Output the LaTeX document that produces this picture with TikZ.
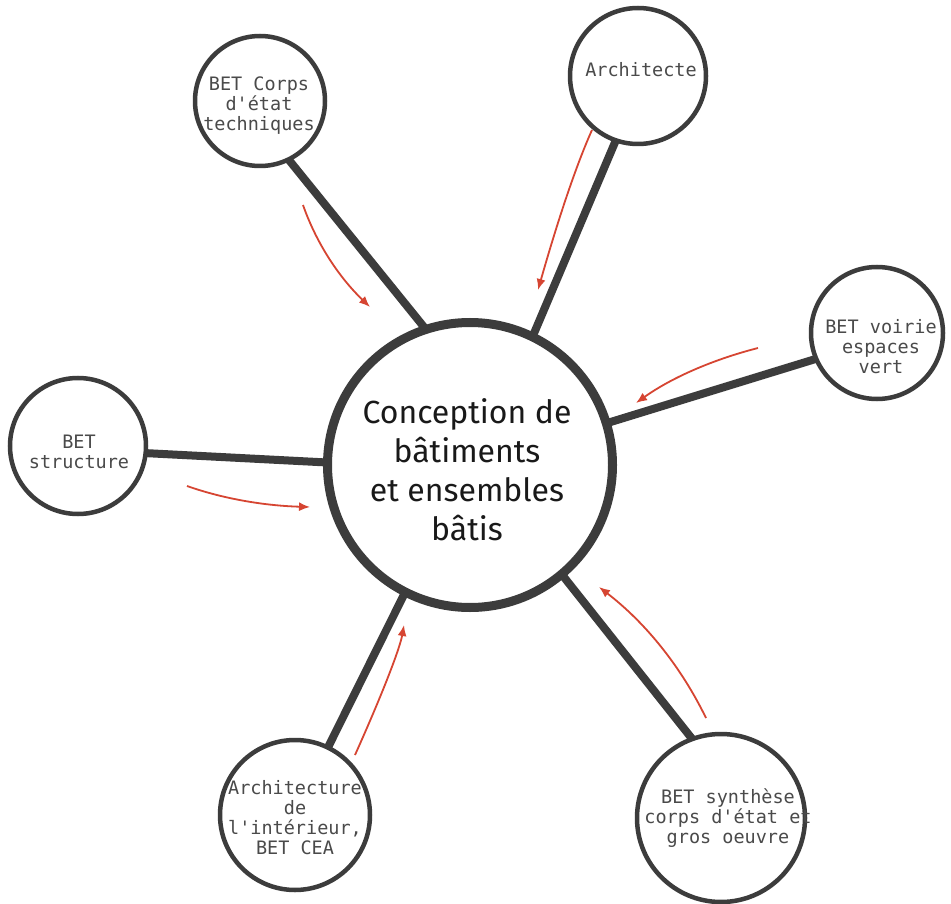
\documentclass[tikz,border=0pt]{standalone}
\usepackage{fontspec}
\setmonofont{DejaVu Sans Mono}
\newfontfamily\hubfont{Fira Sans}
\usetikzlibrary{arrows.meta}
\definecolor{ring}{HTML}{3C3C3C}
\definecolor{satext}{HTML}{4A4A4A}
\definecolor{flow}{HTML}{D64532}
\begin{document}
\begin{tikzpicture}[x=1pt,y=-1pt,
  hub/.style={circle,draw=ring,line width=9pt,fill=white,minimum size=285pt,inner sep=0pt,outer sep=0pt},
  sat/.style={circle,draw=ring,line width=4.5pt,fill=white,inner sep=0pt,outer sep=0pt},
  stext/.style={font=\ttfamily\fontsize{18.5}{20}\selectfont,text=satext,align=center,inner sep=0pt},
  hubtext/.style={font=\hubfont\fontsize{32}{39}\selectfont,text=black!90,align=center,inner sep=0pt},
  link/.style={draw=ring,line width=8pt},
  flowarrow/.style={draw=flow,line width=1.8pt,-{Latex[length=11pt,width=9pt]}}
]
\useasboundingbox[fill=white] (0,0) rectangle (951,904);

% circles
\node[hub] (hub) at (470,465) {};
\node[sat,minimum size=130pt] (s1) at (260,101) {};
\node[sat,minimum size=136pt] (s2) at (638,76) {};
\node[sat,minimum size=132pt] (s3) at (877,333) {};
\node[sat,minimum size=136pt] (s4) at (78,446) {};
\node[sat,minimum size=150pt] (s5) at (295,815) {};
\node[sat,minimum size=168pt] (s6) at (721,818) {};

% connectors
\draw[link] (s1.-64) -- (hub.108);
\draw[link] (s2.-109) -- (hub.64);
\draw[link] (s3.203) -- (hub.17);
\draw[link] (s4.-6) -- (hub.179);
\draw[link] (s5.64) -- (hub.243);
\draw[link] (s6.110) -- (hub.-50);

% texts
\node[hubtext] (ht) at (467,470) {Conception de\\bâtiments\\et ensembles\\bâtis};
\node[stext] (t1) at (259,106) {BET Corps\\d\textquotesingle état\\techniques};
\node[stext] (t2) at (641,70) {Architecte};
\node[stext] (t3) at (881,347) {BET voirie\\espaces\\vert};
\node[stext] (t4) at (79,452) {BET\\structure};
\node[stext] (t5) at (295,818) {Architecture\\de\\l\textquotesingle intérieur,\\BET CEA};
\node[stext] (t6) at (728,818) {BET synthèse\\corps d\textquotesingle état et\\gros oeuvre};

% red flow arrows
\coordinate (a1s) at (303,205); \coordinate (a1e) at (370,307);
\coordinate (a2s) at (592,130); \coordinate (a2e) at (538,290);
\coordinate (a3s) at (758,348); \coordinate (a3e) at (636,403);
\coordinate (a4s) at (187,486); \coordinate (a4e) at (310,507);
\coordinate (a5s) at (355,755); \coordinate (a5e) at (404,625);
\coordinate (a6s) at (706,718); \coordinate (a6e) at (599,587);
\draw[flowarrow] (a1s) .. controls (316.3,243) and (338.7,277) .. (a1e);
\draw[flowarrow] (a2s) .. controls (576.7,164) and (558.7,217.3) .. (a2e);
\draw[flowarrow] (a3s) .. controls (711.3,360) and (670.7,378.3) .. (a3e);
\draw[flowarrow] (a4s) .. controls (223,498.7) and (264,505.7) .. (a4e);
\draw[flowarrow] (a5s) .. controls (383.7,691) and (400,647.7) .. (a5e);
\draw[flowarrow] (a6s) .. controls (680.7,666) and (645,622.3) .. (a6e);
\end{tikzpicture}
\end{document}
